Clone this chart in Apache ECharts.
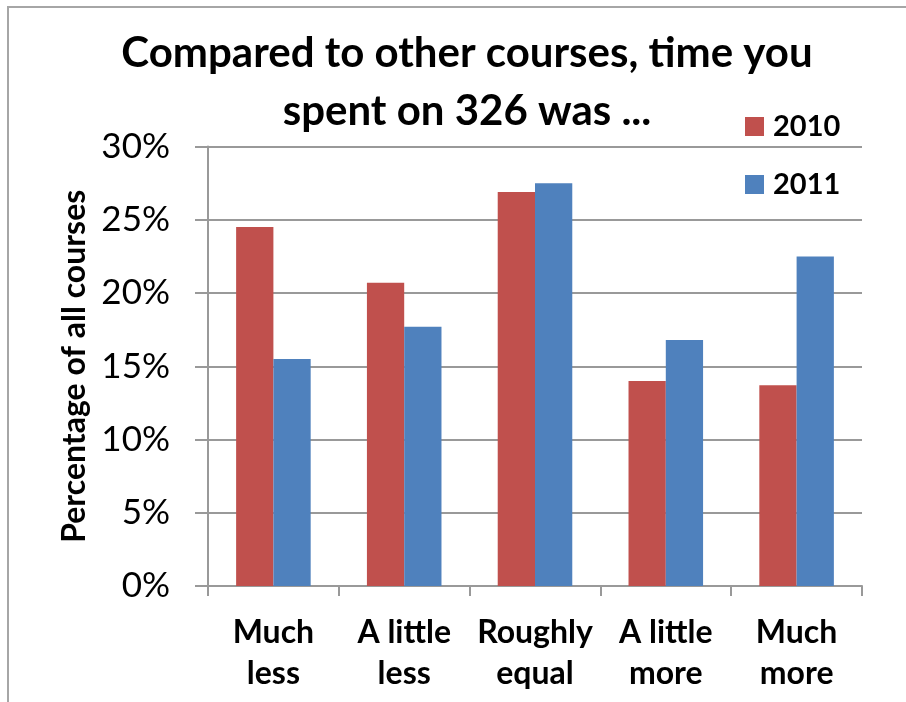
<!DOCTYPE html>
<html>
<head>
<meta charset="utf-8">
<script src="https://cdn.jsdelivr.net/npm/echarts@6/dist/echarts.min.js"></script>
<style>
html,body{margin:0;padding:0;background:#fff;}
#chart{width:906px;height:702px;}
</style>
</head>
<body>
<div id="chart"></div>
<script>
var categories = ['Much\nless', 'A little\nless', 'Roughly\nequal', 'A little\nmore', 'Much\nmore'];
var values2010 = [24.5, 20.7, 26.9, 14.0, 13.7];
var values2011 = [15.5, 17.7, 27.5, 16.8, 22.5];
var seriesNames = ['2010', '2011'];
var titleText = 'Compared to other courses, time you\nspent on 326 was ...';
var yAxisName = 'Percentage of all courses';

var FONT = 'Lato';
var chart = echarts.init(document.getElementById('chart'), null, {renderer: 'canvas'});
chart.setOption({
  backgroundColor: '#fff',
  animation: false,
  title: {
    text: titleText,
    left: 462,
    top: 19,
    textAlign: 'center',
    textStyle: {fontFamily: FONT, fontWeight: 'bold', fontSize: 42, lineHeight: 58, color: '#000'}
  },
  graphic: [{
    type: 'rect',
    shape: {x: 8, y: 7, width: 1000, height: 1000},
    style: {fill: 'none', stroke: '#a6a6a6', lineWidth: 2},
    silent: true, z: -1
  }],
  legend: {
    orient: 'vertical',
    left: 745,
    top: 112,
    padding: 0,
    itemWidth: 19,
    itemHeight: 19,
    itemGap: 29,
    icon: 'rect',
    textStyle: {fontFamily: FONT, fontWeight: 'bold', fontSize: 29, color: '#000', padding: [0, 0, 0, 4]},
    data: seriesNames
  },
  grid: {left: 208, right: 44, top: 146.5, bottom: 116},
  xAxis: {
    type: 'category',
    data: categories,
    axisLine: {show: true, lineStyle: {color: '#999', width: 2}},
    axisTick: {show: true, length: 10, alignWithLabel: false, lineStyle: {color: '#999', width: 2}},
    axisLabel: {fontFamily: FONT, fontWeight: 'bold', fontSize: 32, color: '#000', lineHeight: 41, margin: 26, interval: 0}
  },
  yAxis: {
    type: 'value',
    min: 0, max: 30, interval: 5,
    name: yAxisName,
    nameLocation: 'middle',
    nameRotate: 90,
    nameGap: 115,
    nameTextStyle: {fontFamily: FONT, fontWeight: 'bold', fontSize: 32, color: '#000'},
    axisLine: {show: true, lineStyle: {color: '#999', width: 2}},
    axisTick: {show: true, length: 13, lineStyle: {color: '#999', width: 2}},
    splitLine: {show: true, lineStyle: {color: '#999', width: 2}},
    axisLabel: {fontFamily: FONT, fontSize: 35, color: '#000', margin: 38, formatter: '{value}%'}
  },
  series: [
    {name: seriesNames[0], type: 'bar', data: values2010, barGap: '0%', barCategoryGap: '43%',
     itemStyle: {color: '#C0504D'}},
    {name: seriesNames[1], type: 'bar', data: values2011, barGap: '0%', barCategoryGap: '43%',
     itemStyle: {color: '#4F81BD'}}
  ]
});
</script>
</body>
</html>
